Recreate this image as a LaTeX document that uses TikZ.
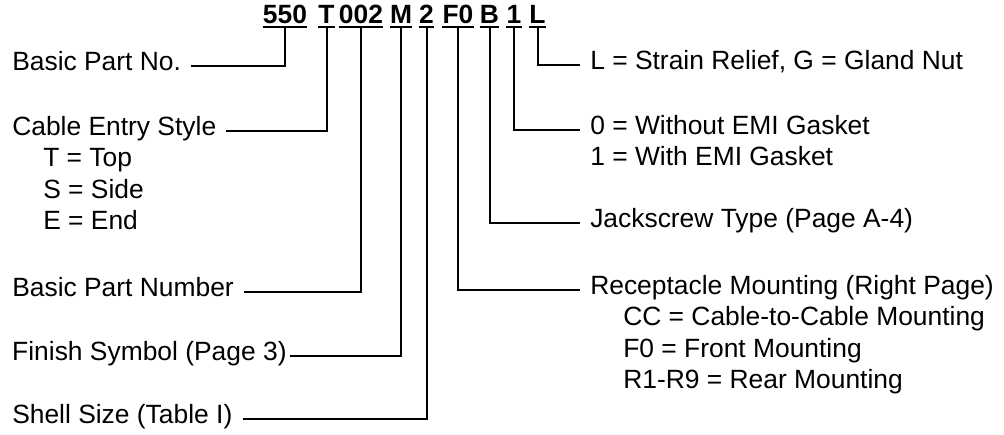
\documentclass[tikz,border=0pt]{standalone}
\usepackage{fontspec}
\setmainfont{Liberation Sans}
\usetikzlibrary{positioning}

\begin{document}
\begin{tikzpicture}[x=0.75pt, y=-0.75pt,
  every node/.style={font=\fontsize{19.8pt}{23.6pt}\selectfont},
  code/.style={font=\fontsize{19.8pt}{23.6pt}\selectfont\bfseries, inner sep=0pt, text depth=2.4pt, anchor=base},
  desc/.style={inner xsep=7.5pt, inner ysep=0pt, text height=1.2ex, text depth=0pt, anchor=west},
  lead/.style={line width=1.5pt}]
  \useasboundingbox (0,0) rectangle (1004,435);

  % the part number
  \node[code] (c550) at (285,24) {550};
  \node[code] (cT) at (326.5,24) {T};
  \node[code] (c002) at (361,24) {002};
  \node[code] (cM) at (401,24) {M};
  \node[code] (c2) at (426.5,24) {2};
  \node[code] (cF0) at (458,24) {F0};
  \node[code] (cB) at (489.5,24) {B};
  \node[code] (c1) at (514,24) {1};
  \node[code] (cL) at (537.5,24) {L};
  \foreach \n in {c550,cT,c002,cM,c2,cF0,cB,c1,cL}
    \draw[lead] (\n.south west) -- (\n.south east);

  % left side
  \node[desc] (basicno) at (2,66) {Basic Part No.};
  \node[desc] (entry) at (2,131) {Cable Entry Style};
  \foreach \t [count=\i] in {T = Top, S = Side, E = End}
    \node[desc] (entry\i) at (33,131+31.5*\i) {\t};
  \node[desc] (partnum) at (2,292) {Basic Part Number};
  \node[desc, inner xsep=2pt] (finish) at (9.3,356) {Finish Symbol (Page 3)};
  \node[desc] (shell) at (2,419) {Shell Size (Table I)};

  % right side
  \node[desc] (relief) at (580,65) {L = Strain Relief, G = Gland Nut};
  \node[desc] (gasket0) at (580,130) {0 = Without EMI Gasket};
  \node[desc] (gasket1) at (580,161) {1 = With EMI Gasket};
  \node[desc] (jack) at (580,223) {Jackscrew Type (Page A-4)};
  \node[desc] (mount) at (580,290) {Receptacle Mounting (Right Page)};
  \foreach \t [count=\i] in {CC = Cable-to-Cable Mounting, F0 = Front Mounting, R1-R9 = Rear Mounting}
    \node[desc] (mount\i) at (613,290+31.5*\i) {\t};

  % leaders
  \draw[lead] (c550.south) |- (basicno.east);
  \draw[lead] (cT.south) |- (entry.east);
  \draw[lead] (c002.south) |- (partnum.east);
  \draw[lead] (cM.south) |- (finish.east);
  \draw[lead] (c2.south) |- (shell.east);
  \draw[lead] (cF0.south) |- (mount.west);
  \draw[lead] (cB.south) |- (jack.west);
  \draw[lead] (c1.south) |- (gasket0.west);
  \draw[lead] (cL.south) |- (relief.west);
\end{tikzpicture}
\end{document}
